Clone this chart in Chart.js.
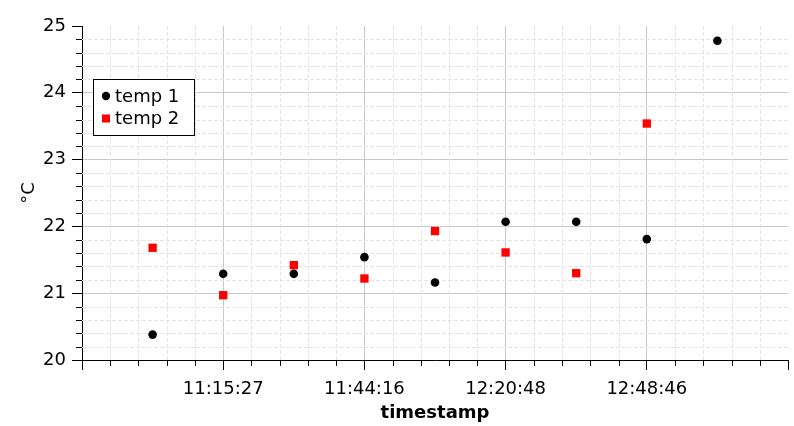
<!DOCTYPE html>
<html>
<head>
<meta charset="utf-8">
<script src="https://cdn.jsdelivr.net/npm/chart.js@4/dist/chart.umd.min.js"></script>
<style>
  html, body { margin: 0; padding: 0; background: #fff; }
  #wrap { width: 794px; height: 426px; }
</style>
</head>
<body>
<div id="wrap"><canvas id="c" width="794" height="426"></canvas></div>
<script>
// ---- data ----
const pointIndex = [1, 2, 3, 4, 5, 6, 7, 8, 9];
const temp1 = [20.38, 21.29, 21.29, 21.54, 21.16, 22.07, 22.07, 21.81, 24.78];
const temp2 = [21.68, 20.97, 21.42, 21.22, 21.93, 21.61, 21.30, 23.54, null];
const tickPositions = [2, 4, 6, 8];
const tickLabels = ['11:15:27', '11:44:16', '12:20:48', '12:48:46'];
const seriesNames = ['temp 1', 'temp 2'];
const xTitle = 'timestamp';
const yTitle = '°C';

const FONT = '"DejaVu Sans", Verdana, sans-serif';
const MAJOR = '#c8c8c8';
const MINOR = '#e4e4e4';

const minorPlugin = {
  id: 'minorGrid',
  beforeDatasetsDraw(chart) {
    const { ctx, chartArea: a, scales: { x, y } } = chart;
    ctx.save();
    ctx.lineWidth = 1;
    for (let i = 0; i <= 25; i++) {
      const v = i * 0.4;
      const px = Math.round(x.getPixelForValue(v)) + 0.5;
      if (i % 5 !== 0) {
        ctx.strokeStyle = MINOR;
        ctx.setLineDash([4, 2]);
        ctx.beginPath(); ctx.moveTo(px, a.top); ctx.lineTo(px, a.bottom); ctx.stroke();
        ctx.setLineDash([]);
        ctx.strokeStyle = '#000';
        ctx.beginPath(); ctx.moveTo(px, a.bottom); ctx.lineTo(px, a.bottom + 6); ctx.stroke();
      }
    }
    for (let i = 0; i <= 25; i++) {
      const v = 20 + i * 0.2;
      const py = Math.round(y.getPixelForValue(v)) + 0.5;
      if (i % 5 !== 0) {
        ctx.strokeStyle = MINOR;
        ctx.setLineDash([4, 2]);
        ctx.beginPath(); ctx.moveTo(a.left, py); ctx.lineTo(a.right, py); ctx.stroke();
        ctx.setLineDash([]);
        ctx.strokeStyle = '#000';
        ctx.beginPath(); ctx.moveTo(a.left - 6, py); ctx.lineTo(a.left, py); ctx.stroke();
      }
    }
    ctx.restore();
  }
};

const legendPlugin = {
  id: 'boxLegend',
  afterDraw(chart) {
    const { ctx } = chart;
    const bx = 93.5, by = 79.5, bw = 101, bh = 56;
    ctx.save();
    ctx.fillStyle = '#fff';
    ctx.fillRect(bx, by, bw, bh);
    ctx.strokeStyle = '#000';
    ctx.lineWidth = 1;
    ctx.strokeRect(bx, by, bw, bh);
    ctx.font = '18px ' + FONT;
    ctx.textBaseline = 'middle';
    ctx.textAlign = 'left';
    chart.data.datasets.forEach((ds, i) => {
      const cy = 96 + i * 22.5;
      ctx.fillStyle = ds.backgroundColor;
      if (ds.pointStyle === 'rect') {
        ctx.fillRect(102, cy - 4, 8, 8);
      } else {
        ctx.beginPath(); ctx.arc(106, cy, 4.2, 0, Math.PI * 2); ctx.fill();
      }
      ctx.fillStyle = '#000';
      ctx.fillText(ds.label, 115, cy + 1);
    });
    ctx.restore();
  }
};

new Chart(document.getElementById('c'), {
  type: 'scatter',
  data: {
    datasets: [
      {
        label: seriesNames[0],
        data: pointIndex.map((x, i) => ({ x, y: temp1[i] })),
        backgroundColor: '#000000',
        borderColor: '#000000',
        borderWidth: 0,
        pointStyle: 'circle',
        pointRadius: 4.3,
        pointHoverRadius: 4.3
      },
      {
        label: seriesNames[1],
        data: pointIndex.map((x, i) => ({ x, y: temp2[i] })).filter(p => p.y !== null),
        backgroundColor: '#ff0000',
        borderColor: '#ff0000',
        borderWidth: 0,
        pointStyle: 'rect',
        pointRadius: 5.9,
        pointHoverRadius: 5.9
      }
    ]
  },
  options: {
    responsive: false,
    animation: false,
    events: [],
    layout: { padding: { top: 26, right: 6, left: 0, bottom: 0 } },
    plugins: {
      legend: { display: false },
      tooltip: { enabled: false }
    },
    scales: {
      x: {
        type: 'linear',
        min: 0,
        max: 10,
        afterFit(s) { s.height = 66; },
        afterBuildTicks(s) {
          s.ticks = [0, 2, 4, 6, 8, 10].map(v => ({ value: v }));
        },
        ticks: {
          autoSkip: false,
          maxRotation: 0,
          padding: 6,
          color: '#000',
          font: { family: FONT, size: 18, lineHeight: 1.5 },
          callback(v) {
            const k = tickPositions.indexOf(v);
            return k >= 0 ? tickLabels[k] : '';
          }
        },
        grid: {
          color(c) { const v = c.tick && c.tick.value; return (v === 0 || v === 10) ? 'rgba(0,0,0,0)' : MAJOR; },
          tickColor: '#000',
          tickLength: 10,
          lineWidth: 1
        },
        border: { display: true, color: '#000', width: 1 },
        title: {
          display: true,
          text: xTitle,
          color: '#000',
          font: { family: FONT, size: 18, weight: 'bold' },
          padding: { top: 0, bottom: 2 }
        }
      },
      y: {
        type: 'linear',
        min: 20,
        max: 25,
        afterFit(s) { s.width = 82; },
        afterBuildTicks(s) {
          s.ticks = [20, 21, 22, 23, 24, 25].map(v => ({ value: v }));
        },
        ticks: {
          padding: 6,
          color: '#000',
          font: { family: FONT, size: 18 }
        },
        grid: {
          color(c) { const v = c.tick && c.tick.value; return (v === 20 || v === 25) ? 'rgba(0,0,0,0)' : MAJOR; },
          tickColor: '#000',
          tickLength: 10,
          lineWidth: 1
        },
        border: { display: true, color: '#000', width: 1 },
        title: {
          display: true,
          text: yTitle,
          color: '#000',
          font: { family: FONT, size: 18 },
          padding: { top: 19, bottom: 0 }
        }
      }
    }
  },
  plugins: [minorPlugin, legendPlugin]
});
</script>
</body>
</html>
